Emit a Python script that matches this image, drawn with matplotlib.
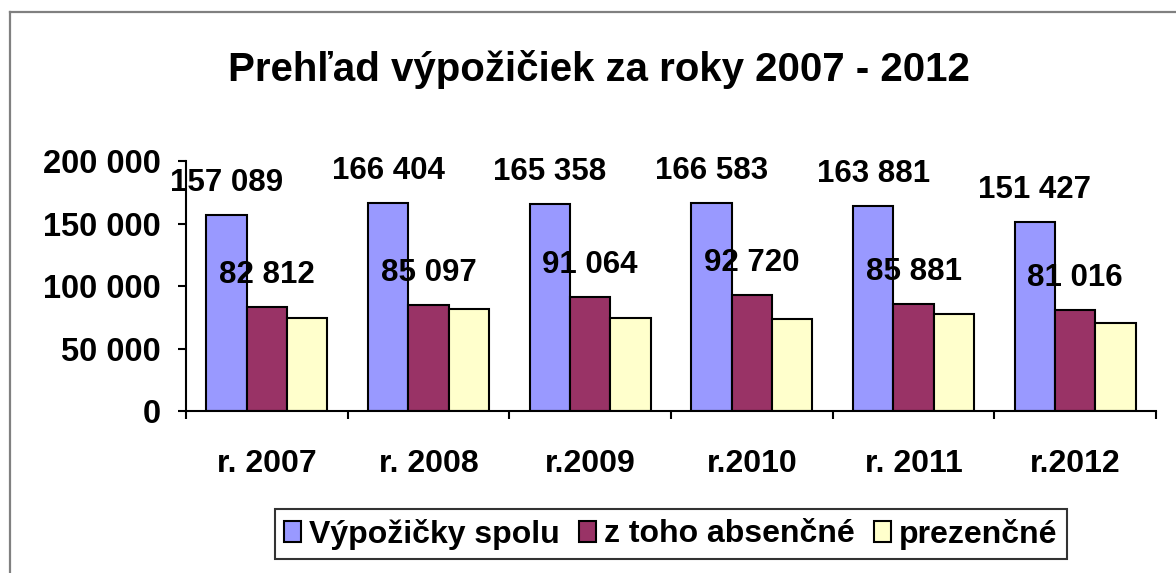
import matplotlib
matplotlib.use("Agg")
import matplotlib.pyplot as plt
from matplotlib.lines import Line2D
import numpy as np

# ---------------------------------------------------------------------------
# Data
# ---------------------------------------------------------------------------
years = ["r. 2007", "r. 2008", "r.2009", "r.2010", "r. 2011", "r.2012"]
spolu = [157089, 166404, 165358, 166583, 163881, 151427]
absencne = [82812, 85097, 91064, 92720, 85881, 81016]
prezencne = [74300, 81300, 74300, 73900, 78000, 70400]

series_names = ["Výpožičky spolu", "z toho absenčné", "prezenčné"]
colors = ["#9999FF", "#993366", "#FFFFCC"]
yticks = [0, 50000, 100000, 150000, 200000]


def fmt(v):
    return f"{v:,}".replace(",", " ")


plt.rcParams["font.family"] = ["Liberation Sans", "DejaVu Sans"]
plt.rcParams["font.weight"] = "bold"

fig = plt.figure(figsize=(11.76, 5.73), dpi=100)
ax = fig.add_axes([0.1582, 0.2827, 0.8248, 0.4363])

x = np.arange(len(years))
w = 0.25
groups = [spolu, absencne, prezencne]
bars = []
for k, (vals, col, name) in enumerate(zip(groups, colors, series_names)):
    b = ax.bar(x + (k - 1) * w, vals, w, color=col, edgecolor="black",
               linewidth=1.5, label=name, zorder=2)
    bars.append(b)

# value labels for the first two series
for b, vals in zip(bars[:2], groups[:2]):
    for rect, v in zip(b, vals):
        ax.annotate(fmt(v), (rect.get_x() + rect.get_width() / 2, v),
                    xytext=(0, 32), textcoords="offset pixels",
                    ha="center", va="center", fontsize=22.5,
                    fontweight="bold", zorder=3)

ax.set_xlim(-0.5, len(years) - 0.5)
ax.set_ylim(0, 200000)
ax.set_yticks(yticks)
ax.set_yticklabels([fmt(t) for t in yticks], fontsize=23.5, fontweight="bold")
ax.tick_params(axis="y", length=6, width=1.5, pad=12)

ax.set_xticks(x)
ax.set_xticklabels(years, fontsize=23, fontweight="bold")
ax.tick_params(axis="x", which="major", length=0, pad=27)
ax.set_xticks(np.arange(len(years) + 1) - 0.5, minor=True)
ax.tick_params(axis="x", which="minor", length=6, width=1.5)

for s in ["top", "right"]:
    ax.spines[s].set_visible(False)
for s in ["left", "bottom"]:
    ax.spines[s].set_linewidth(1.5)

fig.text(0.509, 0.878, "Prehľad výpožičiek za roky 2007 - 2012",
         ha="center", va="center", fontsize=29, fontweight="bold")

leg = fig.legend(loc="center", bbox_to_anchor=(671 / 1176, 1 - 534 / 573),
                 ncol=3, fontsize=23, frameon=True, fancybox=False,
                 handlelength=0.53, handleheight=0.63, handletextpad=0.25,
                 columnspacing=0.6, borderpad=0.3, borderaxespad=0)
leg.get_frame().set_edgecolor("black")
leg.get_frame().set_linewidth(1.5)
for t in leg.get_texts():
    t.set_fontweight("bold")

# grey chart-area border (left and top edges visible)
fig.add_artist(Line2D([10 / 1176, 10 / 1176], [0, 1 - 12 / 573],
                      transform=fig.transFigure, color="#808080", lw=1.6))
fig.add_artist(Line2D([10 / 1176, 1], [1 - 12 / 573, 1 - 12 / 573],
                      transform=fig.transFigure, color="#808080", lw=1.6))

fig.savefig("out.png", dpi=100)
